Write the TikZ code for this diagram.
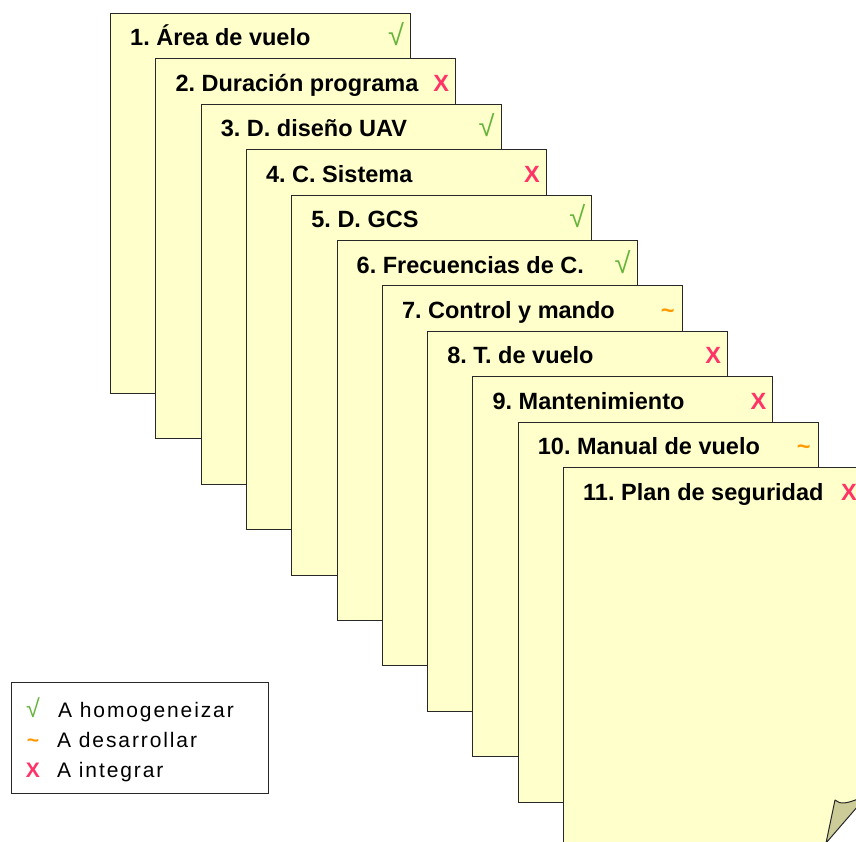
\documentclass[tikz,border=0pt]{standalone}
\usepackage{fontspec}
\setmainfont{Liberation Sans}
\frenchspacing
\definecolor{pagefill}{RGB}{255,255,204}
\definecolor{pageline}{RGB}{40,40,40}
\definecolor{chk}{RGB}{102,180,60}
\definecolor{til}{RGB}{255,153,0}
\definecolor{crs}{RGB}{255,51,102}
\definecolor{curlfill}{RGB}{204,204,153}
\newcommand{\symC}{{\color{chk}\fontseries{m}\fontsize{29}{30}\selectfont √}}
\newcommand{\symT}{{\color{til}\bfseries \char`\~}}
\newcommand{\symX}{{\color{crs}\bfseries X}}
\begin{document}
\begin{tikzpicture}[x=1pt,y=-1pt,
  page/.style={draw=pageline, fill=pagefill, line width=1pt, minimum width=300pt,
    minimum height=380pt, anchor=north west, inner sep=0pt},
  ttl/.style={anchor=base west, inner sep=0pt, font=\fontsize{23.5}{28}\selectfont\bfseries},
  sym/.style={anchor=base, inner sep=0pt, font=\fontsize{23.5}{28}\selectfont},
  legtext/.style={anchor=base west, inner sep=0pt, font=\fontsize{21}{25}\selectfont\addfontfeatures{LetterSpace=9}},
  legsym/.style={anchor=base, inner sep=0pt, font=\fontsize{21}{25}\selectfont}]
\useasboundingbox (0,0) rectangle (856,842);
\clip (0,0) rectangle (856,842);
\foreach \i/\t/\s in {1/{Área de vuelo}/C, 2/{Duración programa}/X, 3/{D. diseño UAV}/C,
  4/{C. Sistema}/X, 5/{D. GCS}/C, 6/{Frecuencias de C.}/C, 7/{Control y mando}/T,
  8/{T. de vuelo}/X, 9/{Mantenimiento}/X, 10/{Manual de vuelo}/T, 11/{Plan de seguridad}/X} {
  \pgfmathsetmacro\L{110+45.3*(\i-1)}
  \pgfmathsetmacro\T{13+45.4*(\i-1)}
  \node[page] (p\i) at (\L,\T) {};
  \node[ttl] (t\i) at ([xshift=20pt,yshift=-33pt]p\i.north west) {\i. \t};
  \node[sym] (s\i) at ([xshift=-15pt,yshift=-33pt]p\i.north east) {\csname sym\s\endcsname};
}
% folded corner of the last page
\coordinate (c1) at (826,843);
\coordinate (c2) at (835,800);
\coordinate (c3) at (858,799);
\coordinate (c4) at (858,806);
\fill[white] (c1) -- (c4) -- (860,806) -- (860,845) -- (826,845) -- cycle;
\draw[pageline, fill=curlfill, line width=1pt, line join=round]
  (c1) -- (c2) .. controls (840,805) and (848,803) .. (c3) -- (c4) -- cycle;
% legend
\node[draw=pageline, line width=1pt, minimum width=257pt, minimum height=111pt,
  anchor=north west, inner sep=0pt] (leg) at (11,682) {};
\node[legsym] (l1s) at (33,717) {{\color{chk}\fontsize{25}{26}\selectfont √}};
\node[legtext] (l1t) at (58,717) {A homogeneizar};
\node[legsym] (l2s) at (33,747) {\symT};
\node[legtext] (l2t) at (57,747) {A desarrollar};
\node[legsym] (l3s) at (33,777) {\symX};
\node[legtext] (l3t) at (57,777) {A integrar};
\end{tikzpicture}
\end{document}
